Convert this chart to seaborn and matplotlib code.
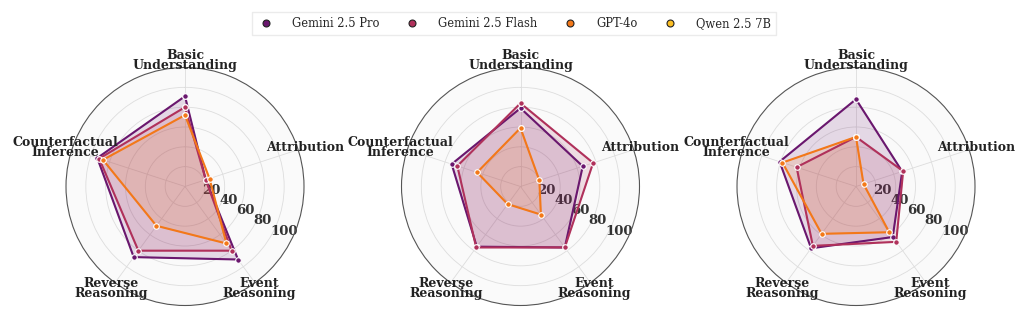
"""Radar comparison of model scores across three evaluation settings."""

import numpy as np
import matplotlib

matplotlib.use("Agg")
import matplotlib.pyplot as plt
from matplotlib.lines import Line2D
import seaborn as sns

CATEGORIES = [
    "Basic\nUnderstanding",
    "Attribution",
    "Event\nReasoning",
    "Reverse\nReasoning",
    "Counterfactual\nInference",
]
MODELS = ["Gemini 2.5 Pro", "Gemini 2.5 Flash", "GPT-4o", "Qwen 2.5 7B"]
RADIAL_TICKS = [20, 40, 60, 80, 100]

# one list per model per panel, in CATEGORIES order (Qwen has no visible polygon)
PANEL1_PRO = [91, 22, 91, 88, 93]
PANEL1_FLASH = [80, 22, 80, 80, 91]
PANEL1_GPT4O = [72, 26, 71, 49, 87]

PANEL2_PRO = [79, 66, 76, 75, 73]
PANEL2_FLASH = [84, 77, 76, 76, 67]
PANEL2_GPT4O = [59, 20, 35, 22, 46]

PANEL3_PRO = [88, 49, 63, 77, 81]
PANEL3_FLASH = [50, 50, 69, 74, 63]
PANEL3_GPT4O = [50, 8, 57, 59, 78]

PANELS = [
    [PANEL1_PRO, PANEL1_FLASH, PANEL1_GPT4O, None],
    [PANEL2_PRO, PANEL2_FLASH, PANEL2_GPT4O, None],
    [PANEL3_PRO, PANEL3_FLASH, PANEL3_GPT4O, None],
]

sns.set_theme(style="white")
plt.rcParams["font.family"] = ["DejaVu Serif", "DejaVu Sans"]

cmap = plt.get_cmap("inferno")
palette = [cmap(p) for p in (0.3, 0.47, 0.7, 0.85)]

fig = plt.figure(figsize=(10.28, 3.35), dpi=100)

n = len(CATEGORIES)
angles = np.linspace(0, 2 * np.pi, n, endpoint=False)
closed = np.concatenate([angles, angles[:1]])

centers_x = [185, 520.5, 856]
radius_px = 119
center_y = 335 - 186.5

for cx, series in zip(centers_x, PANELS):
    ax = fig.add_axes(
        [(cx - radius_px) / 1028, (center_y - radius_px) / 335, 2 * radius_px / 1028, 2 * radius_px / 335],
        projection="polar",
    )
    ax.set_theta_offset(np.pi / 2)
    ax.set_theta_direction(-1)
    ax.set_facecolor("#fafafa")
    ax.set_ylim(0, 120)

    for values, color in zip(series, palette):
        if values is None:
            continue
        vals = np.concatenate([values, values[:1]])
        ax.plot(closed, vals, color=color, linewidth=1.5, marker="o", markersize=4,
                markeredgecolor="white", markeredgewidth=0.8, zorder=3)
        ax.fill(closed, vals, color=color, alpha=0.15, zorder=2)

    ax.set_xticks(angles)
    ax.set_xticklabels([])
    for ang, label in zip(angles, CATEGORIES):
        ax.text(ang, 127, label, ha="center", va="center", fontsize=9, fontweight="bold",
                color="#222222", linespacing=0.75, clip_on=False)

    ax.set_yticks(RADIAL_TICKS)
    ax.set_yticklabels([str(t) for t in RADIAL_TICKS], fontsize=9.5, fontweight="bold", color="#333333")
    ax.set_rlabel_position(121)
    ax.grid(color="#dddddd", linewidth=0.6)
    ax.spines["polar"].set_color("#555555")
    ax.spines["polar"].set_linewidth(0.8)

handles = [
    Line2D([0], [0], marker="o", linestyle="none", markersize=5, markerfacecolor=c,
           markeredgecolor="#222222", markeredgewidth=0.8)
    for c in palette
]
fig.legend(handles, MODELS, loc="upper center", bbox_to_anchor=(0.5, 0.98), ncol=4,
           fontsize=8.3, frameon=True, edgecolor="#e6e6e6", fancybox=False,
           handlelength=1.5, columnspacing=2.1, handletextpad=1.5)

fig.savefig("out.png", dpi=100)
plt.close(fig)
